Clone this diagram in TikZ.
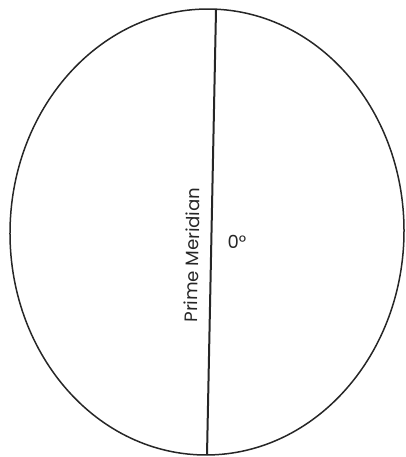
\documentclass[tikz,border=0pt]{standalone}
\usepackage{fontspec}
\setmainfont{Poppins}
\begin{document}
\begin{tikzpicture}[x=1pt,y=-1pt,
  outline/.style={draw=black!85,line width=1.5pt},
  meridian/.style={draw=black!85,line width=2pt},
  lbl/.style={font=\fontsize{18}{18}\selectfont,text=black!85,inner sep=0pt}]
\useasboundingbox (0,0) rectangle (405,457);
\draw[outline,rotate around={-1.2:(207,232)}] (207,232) ellipse [x radius=197, y radius=223];
\coordinate (top) at (216,10);
\coordinate (bot) at (207,455);
\draw[meridian] (top) -- (bot);
\node[lbl,rotate=88.8] (pm) at (192,255) {Prime Meridian};
\node[lbl] (deg) at (237,242) {0°};
\end{tikzpicture}
\end{document}
